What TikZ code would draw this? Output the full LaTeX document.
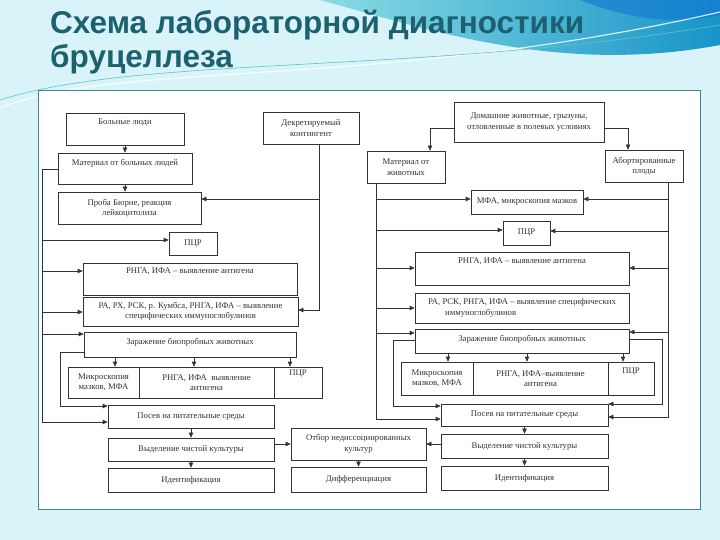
\documentclass[tikz,border=0pt]{standalone}
\usepackage{fontspec}
\setmainfont{Liberation Serif}
\newfontfamily\titlefont{Liberation Sans}
\usetikzlibrary{arrows.meta}
\definecolor{bgcyan}{HTML}{D8F4F8}
\definecolor{titleteal}{HTML}{1D6070}
\definecolor{panelline}{HTML}{3E8696}
\definecolor{ink}{HTML}{333333}
\definecolor{wavelight}{HTML}{8ADCE4}
\definecolor{wavedeep}{HTML}{1794C8}
\tikzset{
  box/.style={draw=ink, line width=0.7pt, fill=white, inner sep=0pt, align=center,
    text=ink, font=\fontsize{8.7}{10.5}\selectfont},
  toptext/.style={text depth=#1},
  wire/.style={draw=ink, line width=0.7pt},
  arr/.style={wire, -{Triangle[length=5pt,width=4.5pt]}},
  heading/.style={anchor=base west, inner sep=0pt, text=titleteal,
    font=\titlefont\bfseries\fontsize{31.5}{36}\selectfont}
}
\begin{document}
\begin{tikzpicture}[x=1pt, y=-1pt]
    \useasboundingbox (0,0) rectangle (720,540);
    % Draw the background.
    \fill[bgcyan] (0,0) rectangle (720,540);
    \shade[left color=wavelight, right color=wavedeep] (320,0) .. controls (430,30) and (560,75) .. (720,45) -- (720,0) -- cycle;
    \fill[wavedeep!80!blue, opacity=.6] (580,0) .. controls (630,20) and (680,25) .. (720,15) -- (720,0) -- cycle;
    \draw[white, line width=1.2pt, opacity=.8] (0,108) .. controls (120,60) and (380,90) .. (720,12);
    \draw[wavelight!70!teal, line width=0.6pt] (0,100) .. controls (140,55) and (420,75) .. (720,25);
    % Specify the title.
    \node[heading] (title) at (50,34) {Схема лабораторной диагностики};
    \node[heading] (title2) at (50,68) {бруцеллеза};
    % Draw the panel.
    \draw[panelline, fill=white, line width=0.8pt] (38,90) rectangle (700,509);
    % Specify the human branch.
    \node[box, minimum width=118pt, minimum height=32pt, toptext=14pt] (patients) at (125,129) {Больные люди};
    \node[box, minimum width=96pt, minimum height=32pt] (decreed) at (311,128) {Декретируемый\\контингент};
    \node[box, minimum width=134pt, minimum height=31pt, toptext=13pt] (matHum) at (125,168.5) {Материал от больных людей};
    \node[box, minimum width=143pt, minimum height=32pt] (burnet) at (129.5,208) {Проба Бюрне, реакция\\лейкоцитолиза};
    \node[box, minimum width=48pt, minimum height=23pt] (pcrHum) at (193,243.5) {ПЦР};
    \node[box, minimum width=214pt, minimum height=32pt, toptext=16pt] (agHum) at (190,279) {РНГА, ИФА -- выявление антигена};
    \node[box, minimum width=215pt, minimum height=29pt] (igHum) at (190.5,311.5) {РА, РХ, РСК, р. Кумбса, РНГА, ИФА -- выявление\\специфических иммуноглобулинов};
    \node[box, minimum width=212pt, minimum height=25pt, toptext=7pt] (bioHum) at (190,344.5) {Заражение биопробных животных};
    \node[box, minimum width=71pt, minimum height=31pt] (micHum) at (103.5,382.5) {Микроскопия\\мазков, МФА};
    \node[box, minimum width=135pt, minimum height=31pt] (rngaHum) at (206.5,382.5) {РНГА, ИФА\ \ выявление\\антигена};
    \node[box, minimum width=48pt, minimum height=31pt, toptext=19pt] (pcr2Hum) at (298,382.5) {ПЦР};
    \node[box, minimum width=166pt, minimum height=23pt] (sowHum) at (191,416.5) {Посев на питательные среды};
    \node[box, minimum width=166pt, minimum height=23pt] (pureHum) at (191,449.5) {Выделение чистой культуры};
    \node[box, minimum width=166pt, minimum height=24pt] (identHum) at (191,480) {Идентификация};
    % Specify the middle column.
    \node[box, minimum width=135pt, minimum height=32pt] (selDiss) at (358.5,444) {Отбор недиссоциированных\\культур};
    \node[box, minimum width=135pt, minimum height=25pt] (diff) at (358.5,479.5) {Дифференциация};
    % Specify the animal branch.
    \node[box, minimum width=150pt, minimum height=40pt] (domestic) at (529,122) {Домашние животные, грызуны,\\отловленные в полевых условиях};
    \node[box, minimum width=78pt, minimum height=32pt] (matAni) at (406,167) {Материал от\\животных};
    \node[box, minimum width=78pt, minimum height=32pt] (aborted) at (644,166) {Абортированные\\плоды};
    \node[box, minimum width=112pt, minimum height=24pt] (mfaAni) at (527,202) {МФА, микроскопия мазков};
    \node[box, minimum width=47pt, minimum height=24pt] (pcrAni) at (526.5,233) {ПЦР};
    \node[box, minimum width=214pt, minimum height=33pt, toptext=15pt] (agAni) at (522,268.5) {РНГА, ИФА -- выявление антигена};
    \node[box, minimum width=214pt, minimum height=30pt, align=left] (igAni) at (522,308) {РА, РСК, РНГА, ИФА -- выявление специфических\\\hspace*{17pt}иммуноглобулинов};
    \node[box, minimum width=214pt, minimum height=24pt, toptext=6pt] (bioAni) at (522,341) {Заражение биопробных животных};
    \node[box, minimum width=72pt, minimum height=33pt] (micAni) at (437,378.5) {Микроскопия\\мазков, МФА};
    \node[box, minimum width=135pt, minimum height=33pt] (rngaAni) at (540.5,378.5) {РНГА, ИФА--выявление\\антигена};
    \node[box, minimum width=46pt, minimum height=33pt, toptext=15pt] (pcr2Ani) at (631,378.5) {ПЦР};
    \node[box, minimum width=167pt, minimum height=22pt] (sowAni) at (524.5,415) {Посев на питательные среды};
    \node[box, minimum width=167pt, minimum height=24pt] (pureAni) at (524.5,446) {Выделение чистой культуры};
    \node[box, minimum width=167pt, minimum height=24pt] (identAni) at (524.5,478) {Идентификация};
    % Draw the human connectors.
    \draw[arr] (patients.south) -- (matHum.north);
    \draw[arr] (matHum.south) -- (matHum.south |- burnet.north);
    \coordinate (decTap) at (319,199);
    \coordinate (decBend) at (319,310);
    \draw[arr] (decreed.south -| decBend) -- (decBend) -- (decBend -| igHum.east);
    \draw[arr] (decTap) -- (decTap -| burnet.east);
    \coordinate (hbTop) at (42,169);
    \coordinate (hbBot) at (42,422);
    \draw[arr] (matHum.west |- hbTop) -- (hbTop) -- (hbBot) -- (hbBot -| sowHum.west);
    \coordinate (hb1) at (42,240);
    \coordinate (hb2) at (42,271);
    \coordinate (hb3) at (42,312);
    \coordinate (hb4) at (42,334);
    \draw[arr] (hb1) -- (hb1 -| pcrHum.west);
    \draw[arr] (hb2) -- (hb2 -| agHum.west);
    \draw[arr] (hb3) -- (hb3 -| igHum.west);
    \draw[arr] (hb4) -- (hb4 -| bioHum.west);
    \coordinate (hiTop) at (60,352);
    \coordinate (hiBot) at (60,406);
    \draw[arr] (bioHum.west |- hiTop) -- (hiTop) -- (hiBot) -- (hiBot -| sowHum.west);
    \coordinate (hd1) at (115,360);
    \coordinate (hd2) at (194,360);
    \coordinate (hd3) at (290,360);
    \draw[arr] (hd1 |- bioHum.south) -- (hd1 |- micHum.north);
    \draw[arr] (hd2 |- bioHum.south) -- (hd2 |- rngaHum.north);
    \draw[arr] (hd3 |- bioHum.south) -- (hd3 |- pcr2Hum.north);
    \draw[arr] (sowHum.south) -- (pureHum.north);
    \draw[arr] (pureHum.south) -- (identHum.north);
    % Draw the middle connectors.
    \draw[arr] (pureHum.east |- selDiss.west) -- (selDiss.west);
    \draw[arr] (pureAni.west |- selDiss.east) -- (selDiss.east);
    \draw[arr] (selDiss.south) -- (diff.north);
    % Draw the animal connectors.
    \coordinate (dL) at (430,128);
    \coordinate (dR) at (628,128);
    \draw[arr] (domestic.west |- dL) -- (dL) -- (dL |- matAni.north);
    \draw[arr] (domestic.east |- dR) -- (dR) -- (dR |- aborted.north);
    \coordinate (abTop) at (376,183);
    \coordinate (abBot) at (376,419);
    \draw[arr] (abTop |- matAni.south) -- (abBot) -- (abBot -| sowAni.west);
    \coordinate (ab1) at (376,199);
    \coordinate (ab2) at (376,230);
    \coordinate (ab3) at (376,268);
    \coordinate (ab4) at (376,308);
    \coordinate (ab5) at (376,333);
    \draw[arr] (ab1) -- (ab1 -| mfaAni.west);
    \draw[arr] (ab2) -- (ab2 -| pcrAni.west);
    \draw[arr] (ab3) -- (ab3 -| agAni.west);
    \draw[arr] (ab4) -- (ab4 -| igAni.west);
    \draw[arr] (ab5) -- (ab5 -| bioAni.west);
    \coordinate (aiTop) at (393,340);
    \coordinate (aiBot) at (393,406);
    \draw[arr] (bioAni.west |- aiTop) -- (aiTop) -- (aiBot) -- (aiBot -| sowAni.west);
    \coordinate (rbTop) at (668,182);
    \coordinate (rbBot) at (668,417);
    \draw[arr] (rbTop |- aborted.south) -- (rbBot) -- (rbBot -| sowAni.east);
    \coordinate (rb1) at (668,199);
    \coordinate (rb2) at (668,231);
    \coordinate (rb3) at (668,268);
    \coordinate (rb4) at (668,332);
    \draw[arr] (rb1) -- (rb1 -| mfaAni.east);
    \draw[arr] (rb2) -- (rb2 -| pcrAni.east);
    \draw[arr] (rb3) -- (rb3 -| agAni.east);
    \draw[arr] (rb4) -- (rb4 -| bioAni.east);
    \coordinate (riTop) at (662,339);
    \coordinate (riBot) at (662,404);
    \draw[arr] (bioAni.east |- riTop) -- (riTop) -- (riBot) -- (riBot -| sowAni.east);
    \coordinate (ad1) at (448,360);
    \coordinate (ad2) at (527,360);
    \coordinate (ad3) at (623,360);
    \draw[arr] (ad1 |- bioAni.south) -- (ad1 |- micAni.north);
    \draw[arr] (ad2 |- bioAni.south) -- (ad2 |- rngaAni.north);
    \draw[arr] (ad3 |- bioAni.south) -- (ad3 |- pcr2Ani.north);
    \draw[arr] (sowAni.south) -- (pureAni.north);
    \draw[arr] (pureAni.south) -- (identAni.north);
\end{tikzpicture}
\end{document}
